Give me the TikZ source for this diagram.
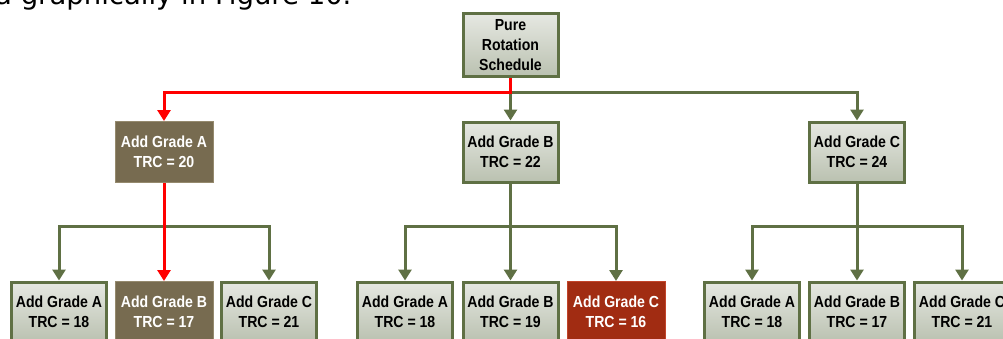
\documentclass[tikz,border=0pt]{standalone}
\usepackage{fontspec}
\setmainfont{Liberation Sans}
\newfontfamily\dejavu{DejaVu Sans}
\newfontfamily\boxfont[FakeStretch=0.88]{Liberation Sans}
\usetikzlibrary{arrows.meta}
\definecolor{lineg}{HTML}{5F7044}
\definecolor{redl}{HTML}{FF0000}
\definecolor{browny}{HTML}{776B50}
\definecolor{browneb}{HTML}{958A6E}
\definecolor{rust}{HTML}{A12C12}
\definecolor{rustb}{HTML}{C2442A}
\definecolor{boxtop}{HTML}{E6E8E2}
\definecolor{boxbot}{HTML}{BAC1B0}
\tikzset{
  gbox/.style={draw=lineg, line width=3pt, top color=boxtop, bottom color=boxbot,
    minimum width=95pt, minimum height=60pt, inner sep=0pt, align=center,
    font=\boxfont\bfseries\fontsize{16}{20}\selectfont, text=black},
  bbox/.style={gbox, draw=browneb, line width=1pt, fill=browny, top color=browny, bottom color=browny, text=white,
    minimum width=98pt, minimum height=61pt},
  rbox/.style={gbox, draw=rustb, line width=1pt, top color=rust, bottom color=rust, text=white,
    minimum width=98pt, minimum height=61pt},
  gline/.style={draw=lineg, line width=3pt},
  rline/.style={draw=redl, line width=3pt},
  garr/.style={gline, -{Triangle[length=11pt,width=13pt]}},
  rarr/.style={rline, -{Triangle[length=11pt,width=13pt]}},
}
\begin{document}
\begin{tikzpicture}[x=1pt,y=-1pt]
\useasboundingbox (0,0) rectangle (1003,338);
\clip (0,0) rectangle (1003,338);
\node[anchor=base west, inner sep=0pt, font=\dejavu\fontsize{27.5}{27.5}\selectfont] (cap) at (-5,4.5) {a graphically in Figure 10.};
% root
\node[gbox, minimum height=63pt] (root) at (510.5,45) {Pure\\Rotation\\Schedule};
% level 2
\node[bbox] (a) at (164,152) {Add Grade A\\TRC = 20};
\node[gbox] (b) at (510.5,152) {Add Grade B\\TRC = 22};
\node[gbox] (c) at (857,152) {Add Grade C\\TRC = 24};
% level 3
\node[gbox] (aa) at (59,312) {Add Grade A\\TRC = 18};
\node[bbox] (ab) at (164,312) {Add Grade B\\TRC = 17};
\node[gbox] (ac) at (269,312) {Add Grade C\\TRC = 21};
\node[gbox] (ba) at (405,312) {Add Grade A\\TRC = 18};
\node[gbox] (bb) at (510.5,312) {Add Grade B\\TRC = 19};
\node[rbox] (bc) at (616,312) {Add Grade C\\TRC = 16};
\node[gbox] (ca) at (752,312) {Add Grade A\\TRC = 18};
\node[gbox] (cb) at (857,312) {Add Grade B\\TRC = 17};
\node[gbox] (cc) at (962,312) {Add Grade C\\TRC = 21};
% coordinates
\coordinate (r0) at (510.5,92);
\coordinate (a0) at (164,226);
\coordinate (b0) at (510.5,226);
\coordinate (c0) at (857,226);
% root connectors
\draw[garr] (r0) -| (c.north);
\draw[garr] (root.south) -- (b.north);
\draw[rarr] (root.south) |- (r0) -| (a.north);
% level 2 -> 3, group A
\draw[garr] (a0) -| (aa.north);
\draw[garr] (a0) -| (ac.north);
\draw[rarr] (a.south) -- (ab.north);
% group B
\draw[garr] (b0) -| (ba.north);
\draw[garr] (b0) -| (bc.north);
\draw[garr] (b.south) -- (bb.north);
% group C
\draw[garr] (c0) -| (ca.north);
\draw[garr] (c0) -| (cc.north);
\draw[garr] (c.south) -- (cb.north);
\end{tikzpicture}
\end{document}
